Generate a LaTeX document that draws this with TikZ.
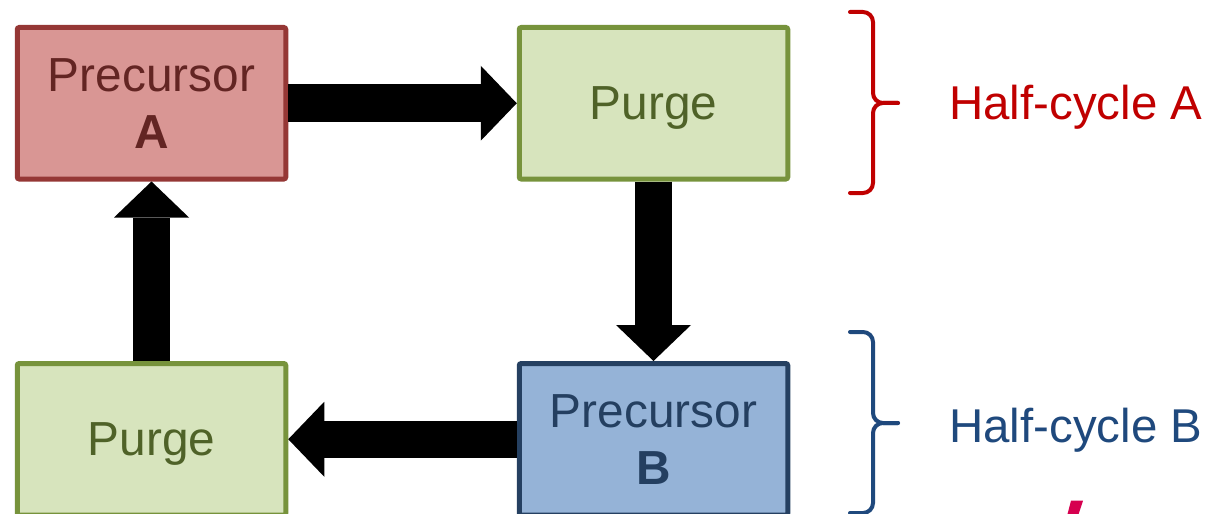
\documentclass[tikz,border=0pt]{standalone}
\usepackage{fontspec}
\setmainfont{Liberation Sans}
\usetikzlibrary{arrows.meta}
\definecolor{precAfill}{HTML}{D99694}
\definecolor{precAline}{HTML}{953735}
\definecolor{precAtext}{HTML}{632523}
\definecolor{purgefill}{HTML}{D7E4BD}
\definecolor{purgeline}{HTML}{77933C}
\definecolor{purgetext}{HTML}{4F6228}
\definecolor{precBfill}{HTML}{95B3D7}
\definecolor{precBline}{HTML}{254061}
\definecolor{precBtext}{HTML}{243F60}
\definecolor{halfAcol}{HTML}{C00000}
\definecolor{halfBcol}{HTML}{1F497D}
\definecolor{markpink}{HTML}{D6004F}
\begin{document}
\begin{tikzpicture}[
        stepbox/.style={draw, line width=0.1cm, rounded corners=0.04cm,
          minimum width=5.37cm, minimum height=3.03cm, align=center,
          font=\fontsize{27.2}{32.4}\selectfont},
        precA/.style={stepbox, fill=precAfill, draw=precAline, text=precAtext},
        precB/.style={stepbox, fill=precBfill, draw=precBline, text=precBtext},
        purge/.style={stepbox, fill=purgefill, draw=purgeline, text=purgetext,
          text depth=0pt},
        flow/.style={line width=0.75cm,
          -{Triangle[length=0.72cm, width=1.5cm, line width=0pt]}},
        halfbrace/.style={line width=0.08cm, line cap=round, rounded corners=0.2cm},
        halflabel/.style={anchor=base west, inner sep=0pt,
          font=\fontsize{27}{32.4}\selectfont}]
        \useasboundingbox (0,0) rectangle (24.3,-10.28);

        \node [precA] (precA) at (3.03,-2.065) {Precursor\\\textbf{A}};
        \node [purge] (purgeA) at (13.07,-2.065) {Purge};
        \node [precB] (precB) at (13.07,-8.785) {Precursor\\\textbf{B}};
        \node [purge] (purgeB) at (3.03,-8.785) {Purge};

        \draw [flow] (precA.east) -- (purgeA.west);
        \draw [flow] (purgeA.south) -- (precB.north);
        \draw [flow] (precB.west) -- (purgeB.east);
        \draw [flow] (purgeB.north) -- (precA.south);

        \draw [halfbrace, halfAcol] (17.00,-0.24) -- (17.46,-0.24) -- (17.46,-2.06) -- (17.96,-2.06);
        \draw [halfbrace, halfAcol] (17.96,-2.06) -- (17.46,-2.06) -- (17.46,-3.86) -- (17.00,-3.86);
        \draw [halfbrace, halfBcol] (17.00,-6.64) -- (17.46,-6.64) -- (17.46,-8.46) -- (17.96,-8.46);
        \draw [halfbrace, halfBcol] (17.96,-8.46) -- (17.46,-8.46) -- (17.46,-10.26) -- (17.00,-10.26);

        \node [halflabel, text=halfAcol] (halfA) at (18.98,-2.40) {Half-cycle A};
        \node [halflabel, text=halfBcol] (halfB) at (18.98,-8.84) {Half-cycle B};

        \fill [markpink] (21.42,-10.014) -- (21.66,-10.014) -- (21.56,-10.32) -- (21.34,-10.32) -- cycle;
      \end{tikzpicture}
\end{document}
